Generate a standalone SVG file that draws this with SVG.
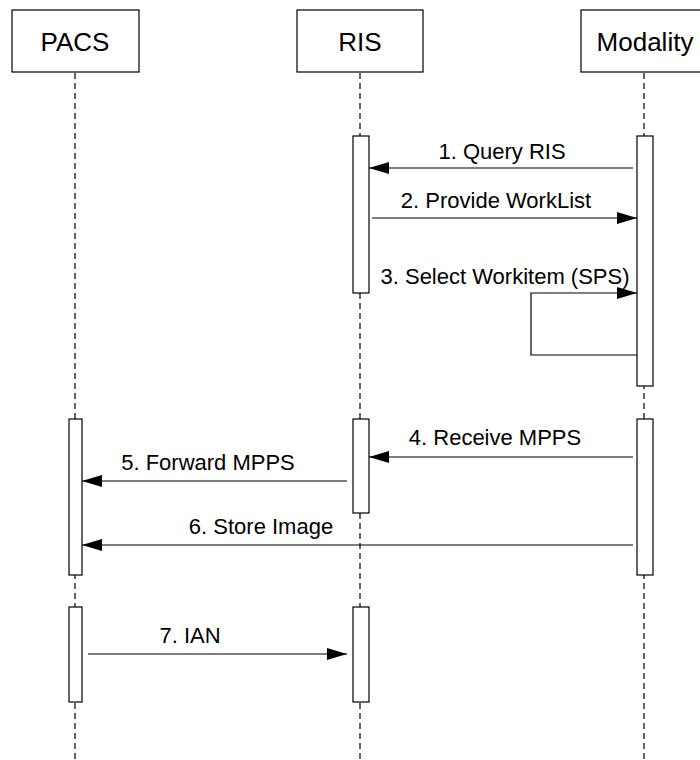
<svg xmlns="http://www.w3.org/2000/svg" width="700" height="760" viewBox="0 0 700 760">
<style>
.box{fill:#fff;stroke:#000;stroke-width:1.2}
.act{fill:#fff;stroke:#000;stroke-width:1.2}
.life{stroke:#000;stroke-width:1.2;stroke-dasharray:6 4;fill:none}
.msg{stroke:#000;stroke-width:1.2;fill:none}
.hd{font-family:"Liberation Sans",Arial,sans-serif;font-size:26px;text-anchor:middle;fill:#000}
.lb{font-family:"Liberation Sans",Arial,sans-serif;font-size:22px;text-anchor:middle;fill:#000}
</style>
<defs>
<marker id="ah" markerWidth="20" markerHeight="12" refX="20" refY="6" orient="auto" markerUnits="userSpaceOnUse">
<path d="M0,0 L20,6 L0,12 Z" fill="#000"/>
</marker>
</defs>
<g id="lifelines">
<line class="life" x1="75" y1="73" x2="75" y2="760"/>
<line class="life" x1="360" y1="73" x2="360" y2="760"/>
<line class="life" x1="644" y1="73" x2="644" y2="760"/>
</g>
<g id="pacs"><rect class="box" x="12" y="10" width="127" height="62"/><text class="hd" x="75" y="51">PACS</text></g>
<g id="ris"><rect class="box" x="297" y="10" width="126" height="62"/><text class="hd" x="360" y="51">RIS</text></g>
<g id="modality"><rect class="box" x="581" y="10" width="126" height="62"/><text class="hd" x="645" y="51">Modality</text></g>
<g id="activations">
<rect class="act" x="353" y="136" width="16" height="157"/>
<rect class="act" x="637" y="136" width="16" height="250"/>
<rect class="act" x="69" y="419" width="13" height="156"/>
<rect class="act" x="353" y="419" width="16" height="94"/>
<rect class="act" x="637" y="419" width="16" height="156"/>
<rect class="act" x="69" y="607" width="13" height="95"/>
<rect class="act" x="353" y="607" width="16" height="95"/>
</g>
<g id="connectors">
<line class="msg" x1="633" y1="168" x2="369" y2="168" marker-end="url(#ah)"/>
<line class="msg" x1="372" y1="218" x2="637" y2="218" marker-end="url(#ah)"/>
<polyline class="msg" points="637,355 531,355 531,293 637,293" marker-end="url(#ah)"/>
<line class="msg" x1="633" y1="457" x2="369" y2="457" marker-end="url(#ah)"/>
<line class="msg" x1="347" y1="481" x2="82" y2="481" marker-end="url(#ah)"/>
<line class="msg" x1="633" y1="545" x2="82" y2="545" marker-end="url(#ah)"/>
<line class="msg" x1="88" y1="654" x2="347" y2="654" marker-end="url(#ah)"/>
</g>
<g id="labels">
<text class="lb" x="502" y="159">1. Query RIS</text>
<text class="lb" x="496" y="208">2. Provide WorkList</text>
<text class="lb" x="505" y="284">3. Select Workitem (SPS)</text>
<text class="lb" x="495" y="445">4. Receive MPPS</text>
<text class="lb" x="208" y="470">5. Forward MPPS</text>
<text class="lb" x="261" y="534">6. Store Image</text>
<text class="lb" x="190" y="643">7. IAN</text>
</g>
</svg>
